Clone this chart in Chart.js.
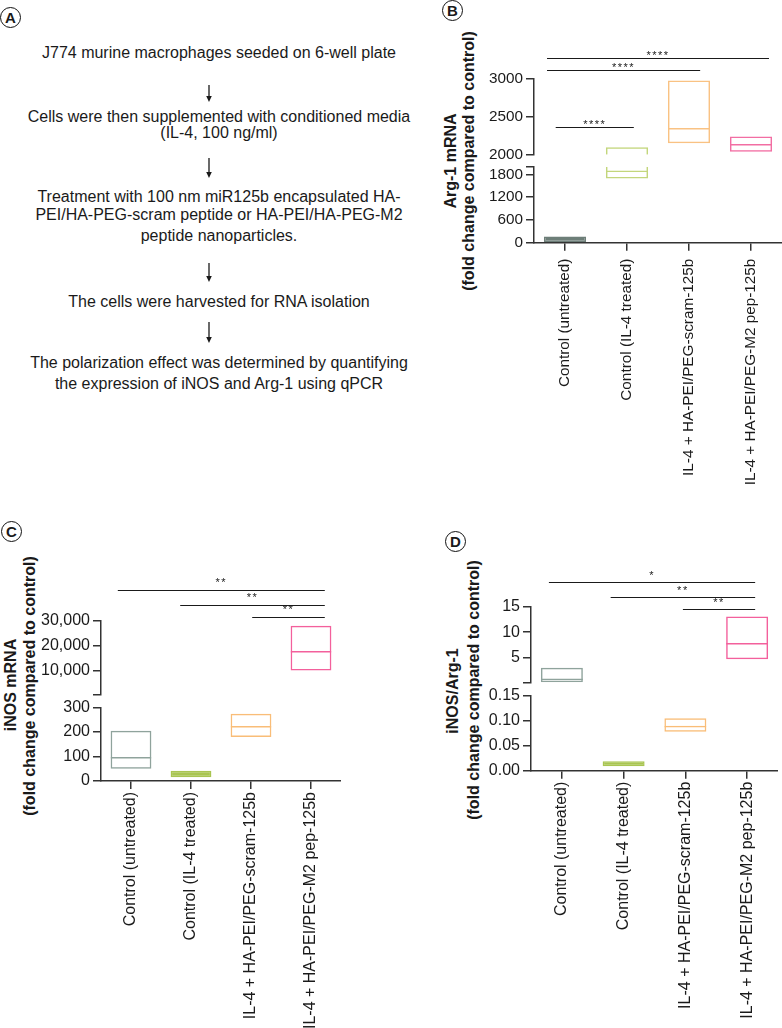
<!DOCTYPE html>
<html>
<head>
<meta charset="utf-8">
<title>Macrophage polarization – Arg-1 / iNOS</title>
<script src="https://cdn.jsdelivr.net/npm/chart.js@4/dist/chart.umd.min.js"></script>
<style>
  body { margin: 0; background: #fff; font-family: "Liberation Sans", Arial, Helvetica, sans-serif; color: #1a1a1a; }
  #page { position: relative; width: 782px; height: 1028px; overflow: hidden; }
  .flow { position: absolute; left: 0; width: 438px; text-align: center; font-size: 16px; line-height: 18px; white-space: nowrap; }
  .tag { position: absolute; width: 19px; height: 19px; border: 1.5px solid #111; border-radius: 50%;
         font-weight: bold; font-size: 15px; line-height: 19px; text-align: center; }
  .ytitle { position: absolute; width: 320px; height: 18px; line-height: 18px; text-align: center;
            font-weight: bold; font-size: 16px; white-space: nowrap; transform: rotate(-90deg); }
  canvas { position: absolute; }
  svg { position: absolute; left: 0; top: 0; }
</style>
</head>
<body>
<div id="page">

  <!-- Panel A: workflow -->
  <div class="tag" style="left:0px; top:7px;">A</div>
  <div class="flow" style="top:43.6px;">J774 murine macrophages seeded on 6-well plate</div>
  <div class="flow" style="top:107.9px;">Cells were then supplemented with conditioned media</div>
  <div class="flow" style="top:123.6px;">(IL-4, 100 ng/ml)</div>
  <div class="flow" style="top:187.6px;">Treatment with 100 nm miR125b encapsulated HA-</div>
  <div class="flow" style="top:206.2px;">PEI/HA-PEG-scram peptide or HA-PEI/HA-PEG-M2</div>
  <div class="flow" style="top:226.9px;">peptide nanoparticles.</div>
  <div class="flow" style="top:292.9px;">The cells were harvested for RNA isolation</div>
  <div class="flow" style="top:354.2px;">The polarization effect was determined by quantifying</div>
  <div class="flow" style="top:374.7px;">the expression of iNOS and Arg-1 using qPCR</div>
  <svg width="440" height="400">
    <g stroke="#1a1a1a" stroke-width="1.3">
      <line x1="209" y1="85" x2="209" y2="97"/>
      <line x1="209" y1="158" x2="209" y2="173"/>
      <line x1="209" y1="263" x2="209" y2="277"/>
      <line x1="209" y1="322" x2="209" y2="338"/>
    </g>
    <g fill="#1a1a1a">
      <polygon points="206.2,96 211.8,96 209,102"/>
      <polygon points="206.2,172 211.8,172 209,178"/>
      <polygon points="206.2,276 211.8,276 209,282"/>
      <polygon points="206.2,337 211.8,337 209,343"/>
    </g>
  </svg>

  <!-- Panel tags and y titles -->
  <div class="tag" style="left:441.8px; top:-0.2px;">B</div>
  <div class="tag" style="left:0.8px; top:520.5px;">C</div>
  <div class="tag" style="left:444.8px; top:530.7px;">D</div>

  <div class="ytitle" style="left:291px; top:152px;">Arg-1 mRNA</div>
  <div class="ytitle" style="left:309px; top:152px;">(fold change compared to control)</div>
  <div class="ytitle" style="left:-149px; top:676px;">iNOS mRNA</div>
  <div class="ytitle" style="left:-130.5px; top:677px;">(fold change compared to control)</div>
  <div class="ytitle" style="left:293px; top:682px;">iNOS/Arg-1</div>
  <div class="ytitle" style="left:313.5px; top:681px;">(fold change compared to control)</div>
</div>

<script>
// Groups shared by panels B, C, D
const groups = [
    'Control (untreated)',
    'Control (IL-4 treated)',
    'IL-4 + HA-PEI/PEG-scram-125b',
    'IL-4 + HA-PEI/PEG-M2 pep-125b'
];

// B: Arg-1 mRNA (fold change) — box low / high / median
const argLow = [0, 1690, 2150, 2040];
const argHigh = [160, 2100, 2970, 2240];
const argMedian = [null, 1900, 2350, 2140];
const argLowerRange = [0, 2000];
const argUpperRange = [2000, 3000];
const argLowerTicks = [0, 600, 1200, 1800, 2000];
const argLowerLabels = ['0', '600', '1200', '1800', ''];
const argUpperTicks = [2000, 2500, 3000];
const argUpperLabels = ['2000', '2500', '3000'];
const argSig = [
    { from: -0.15, to: 1.11, level: 2365, label: '****' },
    { from: -0.29, to: 2.18, level: 3108, label: '****' },
    { from: -0.29, to: 3.29, level: 3265, label: '****' }
];

// C: iNOS mRNA (fold change)
const inosLow = [50, 15, 180, 9900];
const inosHigh = [205, 42, 275, 28000];
const inosMedian = [98, null, 225, 17800];
const inosLowerRange = [0, 300];
const inosUpperRange = [300, 30000];
const inosLowerTicks = [0, 100, 200, 300];
const inosLowerLabels = ['0', '100', '200', '300'];
const inosUpperTicks = [300, 10000, 20000, 30000];
const inosUpperLabels = ['', '10,000', '20,000', '30,000'];
const inosSig = [
    { from: -0.22, to: 3.23, level: 42270, label: '**' },
    { from: 0.82, to: 3.23, level: 36460, label: '**' },
    { from: 2.02, to: 3.23, level: 31370, label: '**' }
];

// D: iNOS/Arg-1 ratio
const ratioLow = [0.2, 0.009, 0.078, 4.7];
const ratioHigh = [3.0, 0.019, 0.105, 13.1];
const ratioMedian = [0.9, null, 0.09, 7.9];
const ratioLowerRange = [0, 0.15];
const ratioUpperRange = [0.15, 15];
const ratioLowerTicks = [0, 0.05, 0.10, 0.15];
const ratioLowerLabels = ['0.00', '0.05', '0.10', '0.15'];
const ratioUpperTicks = [0.15, 5, 10, 15];
const ratioUpperLabels = ['', '5', '10', '15'];
const ratioSig = [
    { from: -0.21, to: 3.13, level: 19.83, label: '*' },
    { from: 0.79, to: 3.13, level: 16.95, label: '**' },
    { from: 1.96, to: 3.13, level: 14.55, label: '**' }
];

// Colours
const argColors = ['#6d7e78', '#c3d67c', '#f9c283', '#f26ea3'];
const argFilled = [true, false, false, false];
const boxColors = ['#8fa39c', '#a9c551', '#f9bd78', '#f3609c'];
const boxFilled = [false, true, false, false];

const AXIS = '#333';
Chart.defaults.font.family = '"Liberation Sans", Arial, Helvetica, sans-serif';
Chart.defaults.color = '#1a1a1a';

// Significance brackets drawn from the chart's own scales
const sigPlugin = {
    id: 'sig',
    afterDraw(chart, args, opts) {
        if (!opts.items) return;
        const { ctx, scales: { x, y } } = chart;
        ctx.save();
        ctx.strokeStyle = '#1a1a1a';
        ctx.fillStyle = '#1a1a1a';
        ctx.lineWidth = 1.2;
        ctx.font = '11px "Liberation Sans", Arial, sans-serif';
        ctx.textAlign = 'center';
        ctx.textBaseline = 'alphabetic';
        ctx.letterSpacing = '1.5px';
        opts.items.forEach(s => {
            const x1 = x.getPixelForValue(s.from);
            const x2 = x.getPixelForValue(s.to);
            const yy = Math.round(y.getPixelForValue(s.level)) + 0.5;
            ctx.beginPath();
            ctx.moveTo(x1, yy);
            ctx.lineTo(x2, yy);
            ctx.stroke();
            ctx.fillText(s.label, (x1 + x2) / 2, yy - opts.gap + 6.4);
        });
        ctx.restore();
    }
};

// Part of a [lo, hi] range that falls inside one axis segment
function segmentPart(lo, hi, range) {
    if (lo == null || hi == null) return null;
    const a = Math.max(lo, range[0]);
    const b = Math.min(hi, range[1]);
    return a < b ? [a, b] : null;
}

function boxDatasets(s, range) {
    const common = { grouped: false, barPercentage: 0.68, categoryPercentage: 1, borderColor: s.colors };
    return [
        {
            ...common,
            data: s.low.map((lo, i) => segmentPart(lo, s.high[i], range)),
            backgroundColor: s.filled.map((f, i) => f ? s.colors[i] : 'rgba(0,0,0,0)'),
            borderWidth: 1.5,
            borderSkipped: ctx => {
                const i = ctx.dataIndex;
                if (s.low[i] < range[0]) return 'bottom';
                if (s.high[i] > range[1]) return 'top';
                return false;
            }
        },
        {
            // median line = top edge of [low, median]
            ...common,
            data: s.low.map((lo, i) => segmentPart(lo, s.median[i], range)),
            backgroundColor: 'rgba(0,0,0,0)',
            borderWidth: { top: 1.5, right: 0, bottom: 0, left: 0 },
            borderSkipped: false
        }
    ];
}

function yScale(range, ticks, labels, fontSize, yW) {
    return {
        type: 'linear',
        min: range[0],
        max: range[1],
        afterBuildTicks: sc => { sc.ticks = ticks.map(v => ({ value: v })); },
        afterFit: sc => { sc.width = yW; },
        ticks: {
            autoSkip: false,
            callback: v => labels[ticks.indexOf(v)] ?? '',
            font: { size: fontSize },
            color: '#1a1a1a',
            padding: 3
        },
        grid: { drawOnChartArea: false, tickLength: 8, color: AXIS, lineWidth: 1.5 },
        border: { display: true, color: AXIS, width: 1.5 }
    };
}

function makePanel(p) {
    const page = document.getElementById('page');
    const yW = 64;
    const pad = 12;
    const mk = (top, height) => {
        const c = document.createElement('canvas');
        c.width = Math.round(p.right - p.left + yW);
        c.height = height;
        c.style.left = (p.left - yW) + 'px';
        c.style.top = top + 'px';
        page.appendChild(c);
        return c;
    };

    const upTop = p.upper.canvasTop;
    const upH = Math.ceil(p.upper.bottom + pad - upTop);
    const loTop = Math.floor(p.lower.top - pad);
    const loH = p.lower.canvasBottom - loTop;

    const base = {
        responsive: false,
        animation: false,
        devicePixelRatio: 1,
        events: []
    };

    // upper segment of the broken axis
    new Chart(mk(upTop, upH), {
        type: 'bar',
        data: { labels: groups, datasets: boxDatasets(p.series, p.upperRange) },
        plugins: [sigPlugin],
        options: {
            ...base,
            layout: { padding: { top: p.upper.top - upTop, bottom: upTop + upH - p.upper.bottom, left: 0, right: 0 } },
            plugins: { legend: { display: false }, tooltip: { enabled: false }, sig: { items: p.sig, gap: p.starGap } },
            scales: {
                x: { type: 'category', display: false },
                y: yScale(p.upperRange, p.upperTicks, p.upperLabels, p.tickFont, yW)
            }
        }
    });

    // lower segment with the category axis
    new Chart(mk(loTop, loH), {
        type: 'bar',
        data: { labels: groups, datasets: boxDatasets(p.series, p.lowerRange) },
        options: {
            ...base,
            layout: { padding: { top: p.lower.top - loTop, bottom: 0, left: 0, right: 0 } },
            plugins: { legend: { display: false }, tooltip: { enabled: false } },
            scales: {
                x: {
                    type: 'category',
                    afterFit: sc => { sc.height = p.lower.canvasBottom - p.lower.bottom; },
                    ticks: {
                        autoSkip: false,
                        minRotation: 90,
                        maxRotation: 90,
                        padding: p.xPad,
                        font: { size: p.xFont },
                        color: '#1a1a1a'
                    },
                    grid: { offset: false, drawOnChartArea: false, tickLength: 8, color: AXIS, lineWidth: 1.5 },
                    border: { display: true, color: AXIS, width: 1.5 }
                },
                y: yScale(p.lowerRange, p.lowerTicks, p.lowerLabels, p.tickFont, yW)
            }
        }
    });
}

// B
makePanel({
    left: 534, right: 782,
    upper: { top: 78.3, bottom: 155, canvasTop: 0 },
    lower: { top: 166.7, bottom: 242.7, canvasBottom: 520 },
    series: { low: argLow, high: argHigh, median: argMedian, colors: argColors, filled: argFilled },
    upperRange: argUpperRange, upperTicks: argUpperTicks, upperLabels: argUpperLabels,
    lowerRange: argLowerRange, lowerTicks: argLowerTicks, lowerLabels: argLowerLabels,
    sig: argSig, starGap: 6,
    tickFont: 15.3, xFont: 15.3, xPad: 8
});

// C
makePanel({
    left: 101, right: 341,
    upper: { top: 620.7, bottom: 694.3, canvasTop: 560 },
    lower: { top: 707, bottom: 781, canvasBottom: 1028 },
    series: { low: inosLow, high: inosHigh, median: inosMedian, colors: boxColors, filled: boxFilled },
    upperRange: inosUpperRange, upperTicks: inosUpperTicks, upperLabels: inosUpperLabels,
    lowerRange: inosLowerRange, lowerTicks: inosLowerTicks, lowerLabels: inosLowerLabels,
    sig: inosSig, starGap: 11,
    tickFont: 16, xFont: 16, xPad: 3
});

// D
makePanel({
    left: 531, right: 778,
    upper: { top: 606.7, bottom: 682.7, canvasTop: 560 },
    lower: { top: 695, bottom: 770.7, canvasBottom: 1028 },
    series: { low: ratioLow, high: ratioHigh, median: ratioMedian, colors: boxColors, filled: boxFilled },
    upperRange: ratioUpperRange, upperTicks: ratioUpperTicks, upperLabels: ratioUpperLabels,
    lowerRange: ratioLowerRange, lowerTicks: ratioLowerTicks, lowerLabels: ratioLowerLabels,
    sig: ratioSig, starGap: 10,
    tickFont: 16, xFont: 16, xPad: 3
});
</script>
</body>
</html>
